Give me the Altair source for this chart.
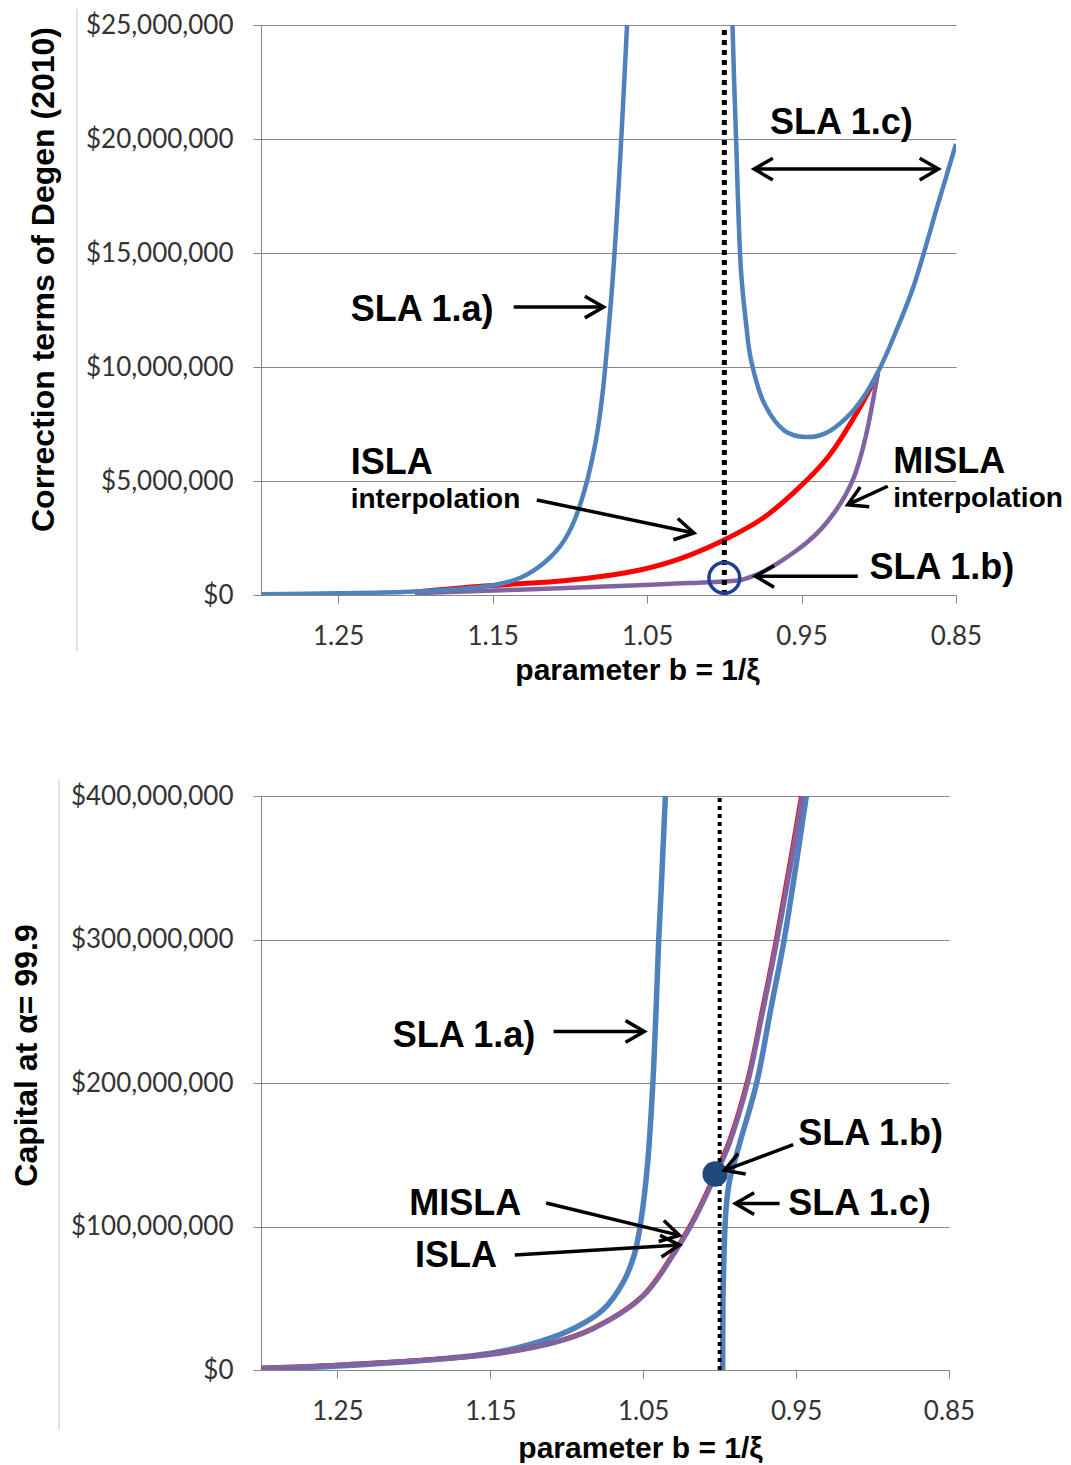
import altair as alt
import pandas as pd

M = 1e6
BLUE = "#4F81BD"
RED = "#FF0000"
PURPLE = "#8064A2"
GRID = "#868686"
ARROW_PATH = "M -1 -0.58 L 0 0 L -1 0.58"

# ---------------- top panel: correction terms (values in $ millions) ----------------
t_1a_b = [1.3000, 1.2501, 1.2003, 1.1504, 1.1317, 1.1168, 1.1057, 1.0967, 1.0837, 1.0737, 1.0630, 1.0591]
t_1a_v = [0.035, 0.075, 0.15, 0.417, 0.768, 1.404, 2.193, 3.333, 6.579, 12.63, 25.0, 31.97]

t_1c_b = [0.99632, 0.99471, 0.99244, 0.98920, 0.98596, 0.98272, 0.97366, 0.96071, 0.94776, 0.93466,
          0.92121, 0.91020, 0.89920, 0.88819, 0.87718, 0.86164, 0.85000]
t_1c_v = [30.8, 25.0, 20.09, 14.21, 11.93, 10.31, 8.33, 7.19, 6.93, 7.09,
          7.76, 8.65, 9.96, 11.67, 13.60, 17.15, 19.78]

t_isla_b = [1.2003, 1.1556, 1.1057, 1.0799, 1.0539, 1.0280, 1.0015, 0.9763, 0.9549, 0.9328, 0.9115, 0.9005]
t_isla_v = [0.13, 0.39, 0.61, 0.81, 1.11, 1.61, 2.37, 3.31, 4.50, 6.05, 8.31, 9.74]

t_misla_b = [1.2003, 1.1336, 1.0475, 1.0216, 1.0009, 0.9892, 0.9795, 0.9717, 0.9633, 0.9542, 0.9458,
             0.9374, 0.9289, 0.9212, 0.9160, 0.9115, 0.9082, 0.9050, 0.9005]
t_misla_v = [0.08, 0.23, 0.45, 0.53, 0.59, 0.66, 0.88, 1.14, 1.49, 1.91, 2.35,
             2.89, 3.60, 4.43, 5.18, 6.14, 7.02, 8.07, 9.74]

t_text_b = [0.9704, 1.2419, 1.2419, 1.2419, 0.8906, 0.8906, 0.9060]
t_text_v = [20.2, 12.02, 5.31, 3.82, 5.37, 3.84, 0.70]
t_text_s = ["SLA 1.c)", "SLA 1.a)", "ISLA", "interpolation", "MISLA", "interpolation", "SLA 1.b)"]
t_text_f = [36, 36, 36, 28, 36, 28, 36]

t_arr_b = [0.9807, 1.1364, 1.1214, 0.8942, 0.9136]
t_arr_v = [18.68, 12.63, 4.17, 4.77, 0.82]
t_arr_b2 = [0.8614, 1.0782, 1.0197, 0.9201, 0.9799]
t_arr_v2 = [18.68, 12.63, 2.72, 3.96, 0.82]

t_head_b = [0.9807, 0.8614, 1.0782, 1.0197, 0.9201, 0.9799]
t_head_v = [18.68, 18.68, 12.63, 2.72, 3.96, 0.82]
t_head_a = [180, 0, 0, 11.9, 155.3, 180]

t_mark_b = [1.0]
t_mark_v = [0.75]

# ---------------- bottom panel: capital at alpha = 99.9 (values in $ millions) ----------------
b_1a_b = [1.2996, 1.2490, 1.1486, 1.1157, 1.0939, 1.0765, 1.0634, 1.0558, 1.0514, 1.0471, 1.0438, 1.0416, 1.0399, 1.0384, 1.0355, 1.0330]
b_1a_v = [1.1, 2.8, 11.9, 20.4, 29.8, 41.8, 60.6, 80.4, 104.5, 144.5, 197.9, 251.2, 299.2, 331.2, 400.0, 460.0]

b_1c_b = [0.99837, 0.99804, 0.99784, 0.99706, 0.99588, 0.99366, 0.98693, 0.97582, 0.96667, 0.95784, 0.95033, 0.94333, 0.93790]
b_1c_v = [-20.9, 0.4, 48.8, 83.6, 111.5, 131.1, 157.8, 200.0, 250.9, 299.7, 349.8, 400.0, 439.0]

b_isla_b = [1.2996, 1.2497, 1.1529, 1.1092, 1.0830, 1.0503, 1.0286, 1.0155, 1.0024, 0.9937, 0.9817, 0.9719, 0.9625, 0.9459, 0.9392]
b_isla_v = [1.45, 3.55, 10.6, 19.1, 29.0, 51.9, 84.2, 108.4, 138.0, 159.7, 202.5, 252.5, 303.2, 404.5, 450.0]

b_misla_b = [1.2996, 1.2497, 1.1529, 1.1092, 1.0830, 1.0503, 1.0286, 1.0155, 1.0024, 0.9937, 0.9817, 0.9719, 0.9625, 0.9459, 0.9392]
b_misla_v = [1.4, 3.5, 10.45, 18.8, 28.6, 51.2, 83.1, 107.1, 136.4, 157.8, 200.0, 249.5, 299.6, 400.0, 445.0]

b_text_b = [1.2139, 1.2031, 1.1993, 0.9486, 0.9552]
b_text_v = [225.1, 108.3, 72.1, 157.1, 108.3]
b_text_s = ["SLA 1.a)", "MISLA", "ISLA", "SLA 1.b)", "SLA 1.c)"]
b_text_f = [36, 36, 36, 36, 36]

b_arr_b = [1.1086, 1.1135, 1.1340, 0.9519, 0.9608]
b_arr_v = [235.9, 116.4, 80.1, 157.1, 116.0]
b_arr_b2 = [1.0493, 1.0263, 1.0263, 0.9969, 0.9897]
b_arr_v2 = [235.9, 93.8, 87.1, 139.1, 116.0]

b_head_b = [1.0493, 1.0263, 1.0263, 0.9969, 0.9897]
b_head_v = [235.9, 93.8, 87.1, 139.1, 116.0]
b_head_a = [0, 13.7, 356.5, 159.5, 180]

b_mark_b = [1.003]
b_mark_v = [136.6]

x_ticks = [1.25, 1.15, 1.05, 0.95, 0.85]


def df_xy(b, v):
    return pd.DataFrame({"b": b, "v": [val * M for val in v]})


def panel(width, height, ymax, yvals, ytitle, ytx, yty, xtx, xty,
          lines, dot_w, dot_dash, texts, arrows, heads, marker,
          deco_x, deco_y1, deco_y2, spacer_y1, spacer_y2):
    xscale = alt.Scale(domain=[0.85, 1.30], reverse=True, nice=False, zero=False)
    yscale = alt.Scale(domain=[0, ymax], nice=False, zero=False)
    X = alt.X("b:Q", scale=xscale,
              axis=alt.Axis(values=x_ticks, format=".2f", grid=False, labelFlush=False,
                            title="parameter b = 1/ξ", titleX=xtx, titleY=xty,
                            titleAlign="center", titleBaseline="alphabetic", titleAngle=0,
                            titleFontSize=30))
    Y = alt.Y("v:Q", scale=yscale,
              axis=alt.Axis(values=yvals, format="$,.0f", grid=True,
                            title=ytitle, titleX=ytx, titleY=yty, titleAngle=270,
                            titleAlign="center", titleBaseline="middle", titleFontSize=32))
    one = pd.DataFrame({"d": [0]})
    layers = [
        alt.Chart(one).mark_rule(color="white", strokeWidth=1).encode(
            x=alt.value(-252), y=alt.value(spacer_y1), y2=alt.value(spacer_y2)),
        alt.Chart(one).mark_rule(color="#c8c8c8", strokeWidth=1).encode(
            x=alt.value(deco_x), y=alt.value(deco_y1), y2=alt.value(deco_y2)),
    ]
    for b, v, color, w in lines:
        layers.append(
            alt.Chart(df_xy(b, v)).mark_line(color=color, strokeWidth=w, clip=True,
                                             interpolate="catmull-rom").encode(x=X, y=Y))
    dotted = pd.DataFrame({"b": [1.0], "v": [0.0], "v2": [ymax]})
    layers.append(alt.Chart(dotted).mark_rule(color="black", strokeWidth=dot_w,
                                              strokeDash=dot_dash).encode(
        x=X, y=Y, y2=alt.Y2("v2")))
    mb, mv, filled, msize, mcolor = marker
    layers.append(alt.Chart(df_xy(mb, mv)).mark_point(
        shape="circle", filled=filled, size=msize, color=mcolor, strokeWidth=3.5,
        opacity=1).encode(x=X, y=Y))
    ab, av, ab2, av2 = arrows
    adf = pd.DataFrame({"b": ab, "v": [a * M for a in av], "b2": ab2, "v2": [a * M for a in av2]})
    layers.append(alt.Chart(adf).mark_rule(color="black", strokeWidth=3.5).encode(
        x=X, y=Y, x2=alt.X2("b2"), y2=alt.Y2("v2")))
    hb, hv, ha = heads
    hdf = pd.DataFrame({"b": hb, "v": [a * M for a in hv], "angle": ha})
    layers.append(alt.Chart(hdf).mark_point(shape=ARROW_PATH, filled=False, size=1400,
                                            color="black", strokeWidth=3.5, opacity=1,
                                            strokeJoin="miter").encode(
        x=X, y=Y, angle=alt.Angle("angle:Q", scale=None)))
    tb, tv, ts, tf = texts
    tdf = pd.DataFrame({"b": tb, "v": [a * M for a in tv], "label": ts, "fs": tf})
    layers.append(alt.Chart(tdf).mark_text(align="left", baseline="alphabetic",
                                           font="Liberation Sans", fontWeight="bold",
                                           color="black").encode(
        x=X, y=Y, text="label:N", size=alt.Size("fs:Q", scale=None)))
    return alt.layer(*layers).properties(width=width, height=height)


top = panel(
    695, 570, 25 * M, [0, 5 * M, 10 * M, 15 * M, 20 * M, 25 * M],
    "Correction terms of Degen (2010)", -218, 254, 376, 84,
    [(t_isla_b, t_isla_v, RED, 5), (t_misla_b, t_misla_v, PURPLE, 4.5),
     (t_1a_b, t_1a_v, BLUE, 4.5), (t_1c_b, t_1c_v, BLUE, 4.5)],
    5, [5, 5],
    (t_text_b, t_text_v, t_text_s, t_text_f),
    (t_arr_b, t_arr_v, t_arr_b2, t_arr_v2),
    (t_head_b, t_head_v, t_head_a),
    (t_mark_b, t_mark_v, False, 950, "#1F3F94"),
    -184, -16, 626, -16, 676,
)

bottom = panel(
    688, 574, 400 * M, [0, 100 * M, 200 * M, 300 * M, 400 * M],
    "Capital at α= 99.9", -235, 259, 379, 87,
    [(b_1a_b, b_1a_v, BLUE, 5.5), (b_1c_b, b_1c_v, BLUE, 5.5),
     (b_isla_b, b_isla_v, RED, 4.5), (b_misla_b, b_misla_v, PURPLE, 5)],
    4, [4, 4],
    (b_text_b, b_text_v, b_text_s, b_text_f),
    (b_arr_b, b_arr_v, b_arr_b2, b_arr_v2),
    (b_head_b, b_head_v, b_head_a),
    (b_mark_b, b_mark_v, True, 640, "#1F497D"),
    -202, -17, 634, -93, 640,
)

chart = alt.vconcat(top, bottom, spacing=0).properties(padding=0).configure_view(
    strokeWidth=0
).configure_axis(
    domainColor=GRID, tickColor=GRID, gridColor=GRID, gridWidth=1, domainWidth=1,
    tickSize=8, labelPadding=20, labelFont="Lato", labelFontSize=26,
    labelColor="#333333", titleFont="Liberation Sans",
    titleFontWeight="bold", titleColor="black"
)

chart.save("out.html", embed_options={"renderer": "svg", "actions": False})
